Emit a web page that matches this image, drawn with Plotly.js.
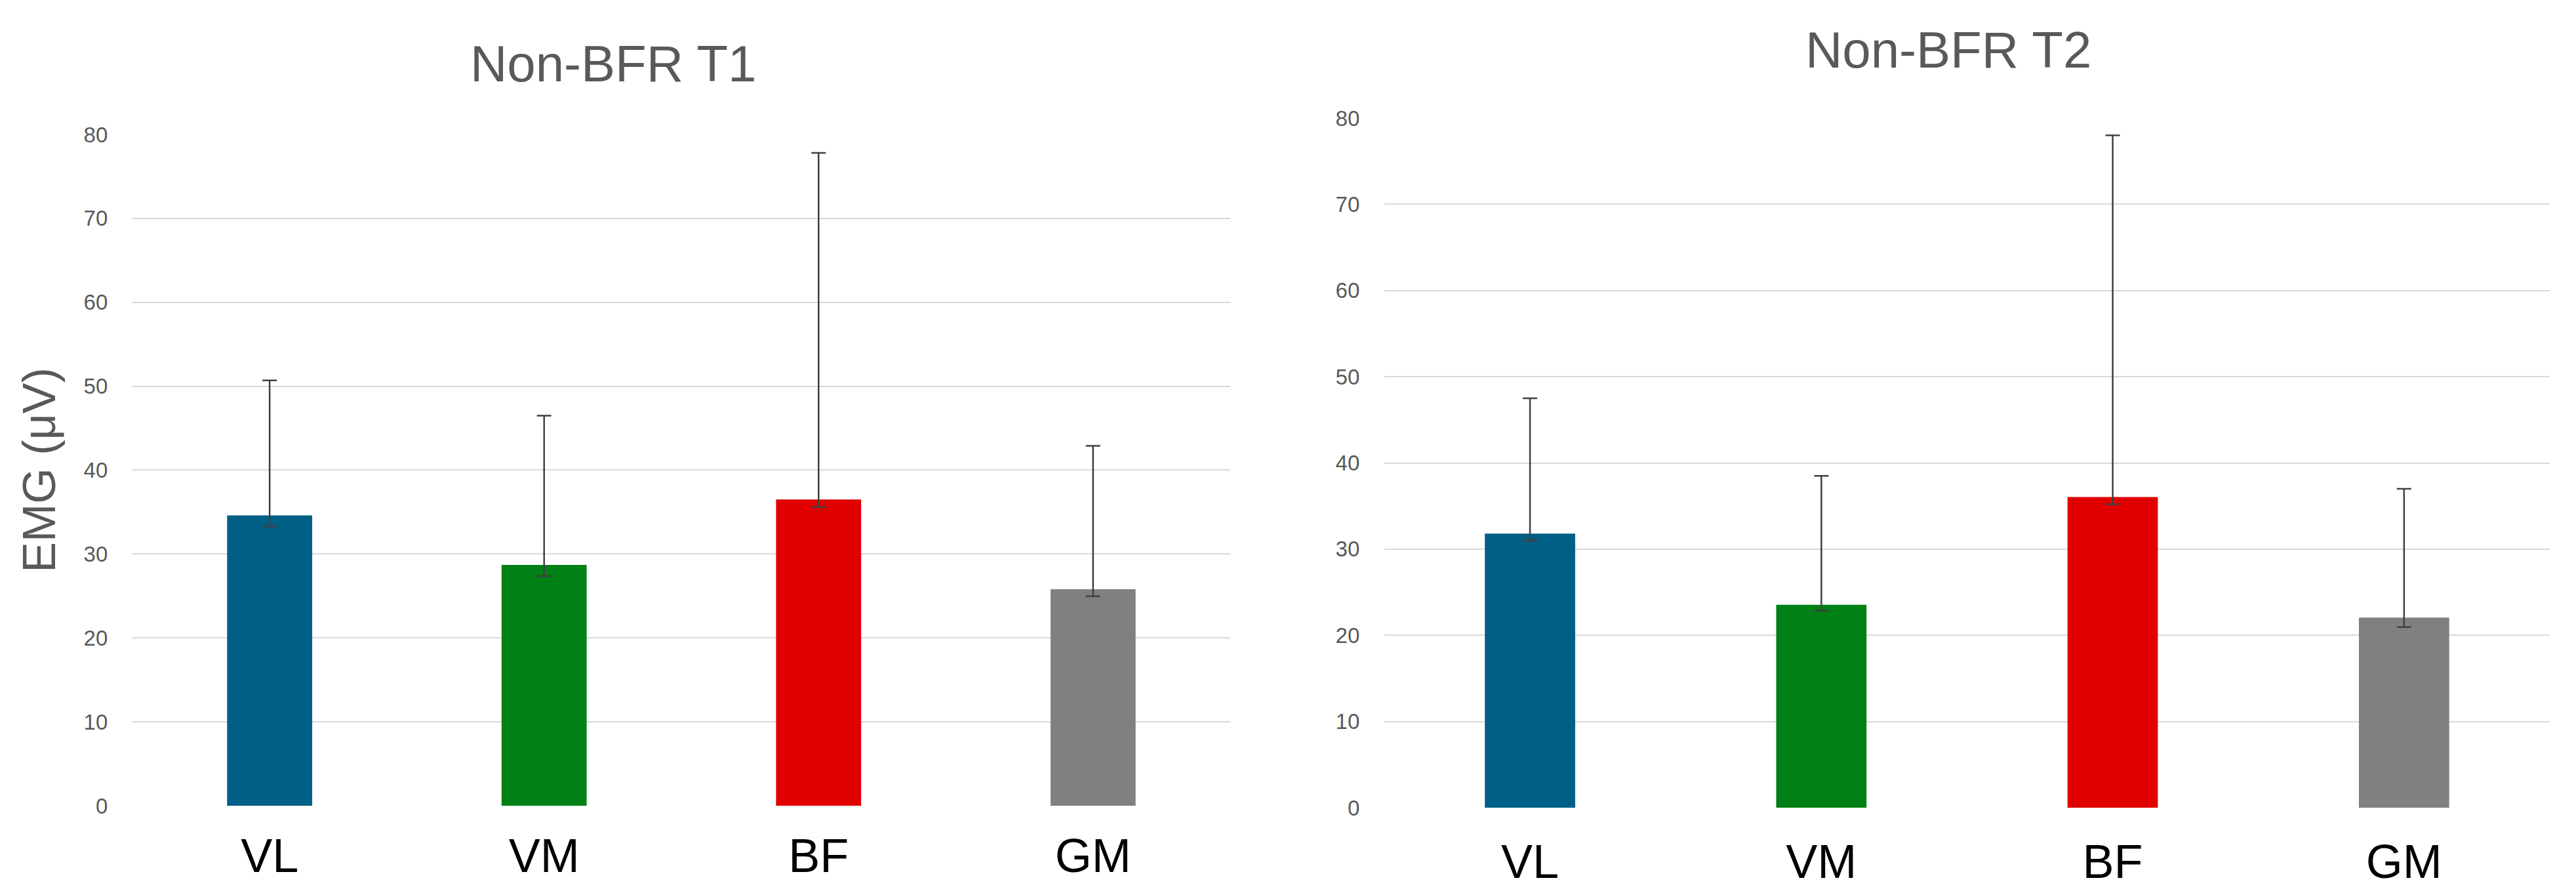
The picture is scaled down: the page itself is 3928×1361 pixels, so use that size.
<!DOCTYPE html>
<html>
<head>
<meta charset="utf-8">
<script src="https://cdn.plot.ly/plotly-3.0.1.min.js"></script>
<style>html,body{margin:0;padding:0;background:#fff;}#chart{width:3928px;height:1361px;}</style>
</head>
<body>
<div id="chart"></div>
<script>
// Data
const categories = ["VL", "VM", "BF", "GM"];
const barColors = ["#005F86", "#008015", "#E00000", "#808080"];

const t1Title = "Non-BFR T1";
const t1Means = [34.6, 28.7, 36.5, 25.8];
const t1ErrHigh = [50.7, 46.5, 77.8, 42.9];
const t1ErrLow = [33.3, 27.35, 35.6, 24.96];

const t2Title = "Non-BFR T2";
const t2Means = [31.8, 23.55, 36.05, 22.05];
const t2ErrHigh = [47.5, 38.5, 78.0, 37.0];
const t2ErrLow = [31.0, 22.86, 35.2, 20.96];

const yTickVals = [0, 10, 20, 30, 40, 50, 60, 70, 80];
const yAxisTitle = "EMG (μV)";

const FONT = "Liberation Sans, Arial, sans-serif";
const GRAY = "#595959";

function diff(a, b) { return a.map((v, i) => +(v - b[i]).toFixed(3)); }

function barTrace(means, hi, lo, xa, ya) {
  return {
    type: "bar",
    x: categories,
    y: means,
    xaxis: xa, yaxis: ya,
    marker: { color: barColors, line: { width: 0 } },
    error_y: {
      type: "data",
      symmetric: false,
      array: diff(hi, means),
      arrayminus: diff(means, lo),
      color: "#404040",
      thickness: 2.5,
      width: 11
    },
    hoverinfo: "x+y",
    showlegend: false
  };
}

const data = [
  barTrace(t1Means, t1ErrHigh, t1ErrLow, "x", "y"),
  barTrace(t2Means, t2ErrHigh, t2ErrLow, "x2", "y2")
];

function xAxis(domain, anchor, standoff) {
  return {
    domain: domain, anchor: anchor,
    type: "category",
    showgrid: false, zeroline: false, showline: false,
    ticks: "outside", ticklen: standoff, tickcolor: "rgba(0,0,0,0)",
    tickfont: { family: FONT, size: 72, color: "#000000" },
    fixedrange: true
  };
}
function yAxis(domain, anchor) {
  return {
    domain: domain, anchor: anchor,
    range: [0, 80],
    tickvals: yTickVals,
    showgrid: true, gridcolor: "#D9D9D9", gridwidth: 2,
    zeroline: false, showline: false,
    ticks: "outside", ticklen: 30, tickcolor: "rgba(0,0,0,0)",
    tickfont: { family: FONT, size: 33, color: GRAY },
    fixedrange: true
  };
}

const layout = {
  width: 3928, height: 1361,
  margin: { l: 0, r: 0, t: 0, b: 0 },
  paper_bgcolor: "#ffffff", plot_bgcolor: "#ffffff",
  font: { family: FONT, color: GRAY },
  bargap: 0.69,
  xaxis: xAxis([0.0514, 0.4776], "y", 14),
  yaxis: Object.assign(yAxis([0.0977, 0.8494], "x"), {
    title: { text: yAxisTitle, font: { family: FONT, size: 70, color: GRAY }, standoff: 20 }
  }),
  xaxis2: xAxis([0.5374, 0.9898], "y2", 20),
  yaxis2: yAxis([0.0955, 0.8677], "x2"),
  annotations: [
    { text: t1Title, xref: "paper", yref: "paper", x: 0.238, y: 0.9287,
      xanchor: "center", yanchor: "middle", showarrow: false,
      font: { family: FONT, size: 78, color: GRAY } },
    { text: t2Title, xref: "paper", yref: "paper", x: 0.7564, y: 0.9442,
      xanchor: "center", yanchor: "middle", showarrow: false,
      font: { family: FONT, size: 78, color: GRAY } }
  ]
};

Plotly.newPlot("chart", data, layout, { displayModeBar: false, staticPlot: true });
</script>
</body>
</html>
